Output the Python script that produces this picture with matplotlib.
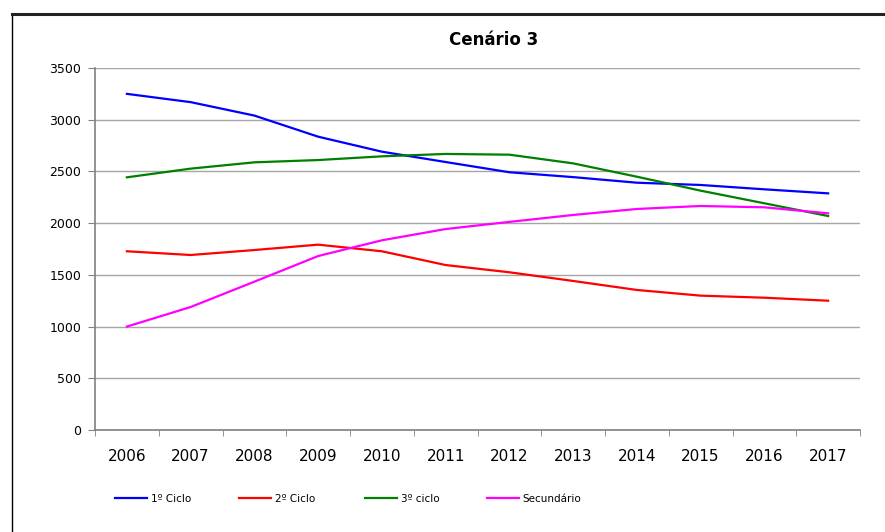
import matplotlib
matplotlib.use('Agg')
import matplotlib.pyplot as plt
from matplotlib.lines import Line2D

# Dados
anos = ['2006', '2007', '2008', '2009', '2010', '2011',
        '2012', '2013', '2014', '2015', '2016', '2017']
ciclo1 = [3250, 3170, 3040, 2836, 2691, 2591, 2492, 2445, 2391, 2369, 2327, 2288]
ciclo2 = [1728, 1692, 1740, 1792, 1728, 1595, 1525, 1441, 1354, 1299, 1279, 1250]
ciclo3 = [2443, 2527, 2588, 2610, 2646, 2669, 2662, 2578, 2449, 2314, 2192, 2069]
secundario = [1000, 1189, 1434, 1682, 1834, 1943, 2012, 2079, 2137, 2166, 2153, 2095]

series = [
    ('1º Ciclo', ciclo1, '#0000ff'),
    ('2º Ciclo', ciclo2, '#ff0000'),
    ('3º ciclo', ciclo3, '#008000'),
    ('Secundário', secundario, '#ff00ff'),
]

W, H = 885, 532
fig = plt.figure(figsize=(W / 100, H / 100), dpi=100)
ax = fig.add_axes([95 / W, 1 - 430 / H, (860 - 95) / W, (430 - 68) / H])

x = list(range(len(anos)))
for nome, vals, cor in series:
    ax.plot(x, vals, color=cor, linewidth=1.6)

ax.set_xlim(-0.5, len(anos) - 0.5)
ax.set_ylim(0, 3500)
ax.set_yticks(range(0, 3501, 500))
ax.set_xticks(x)
ax.set_xticklabels(anos, fontsize=11)
ax.set_xticks([i - 0.5 for i in range(len(anos) + 1)], minor=True)
ax.tick_params(axis='x', which='major', length=0, pad=14)
ax.tick_params(axis='x', which='minor', length=4, color='#808080')
ax.tick_params(axis='y', labelsize=9, length=5, color='#808080', pad=5)

ax.yaxis.grid(True, color='#a6a6a6', linewidth=1)
ax.set_axisbelow(True)
for lado in ['top', 'right']:
    ax.spines[lado].set_visible(False)
for lado in ['left', 'bottom']:
    ax.spines[lado].set_color('#808080')
    ax.spines[lado].set_linewidth(1.2)

fig.text(494 / W, 1 - 40 / H, 'Cenário 3', ha='center', va='center',
         fontsize=12, fontweight='bold')

# legenda: uma entrada por coluna, espaçamento igual
posicoes = [106, 230, 356, 478]
for (nome, vals, cor), px in zip(series, posicoes):
    h = Line2D([], [], color=cor, linewidth=1.6)
    fig.legend(handles=[h], labels=[nome], loc='center left',
               bbox_to_anchor=(px / W, 1 - 499 / H), frameon=False,
               fontsize=7.5, handlelength=3.0, handletextpad=0.4)

# moldura
fig.add_artist(Line2D([12 / W, 12 / W], [0, 1 - 14 / H], color='black',
                      linewidth=1, transform=fig.transFigure))
fig.add_artist(Line2D([12 / W, 1], [1 - 14 / H, 1 - 14 / H], color='#222222',
                      linewidth=2.2, transform=fig.transFigure))

fig.savefig('out.png', dpi=100)
